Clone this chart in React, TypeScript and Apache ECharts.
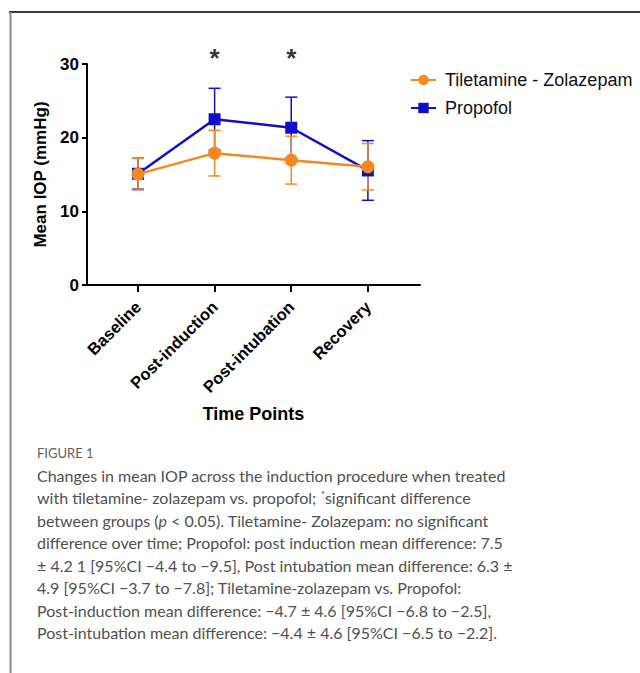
import React, { useEffect, useRef } from "react";
import * as echarts from "echarts";

const categories = ["Baseline", "Post-induction", "Post-intubation", "Recovery"];
const tzName = "Tiletamine - Zolazepam";
const propName = "Propofol";
const tzMean = [15.05, 17.9, 16.95, 16.05];
const tzSd = [2.15, 3.1, 3.25, 3.15];
const propMean = [15.1, 22.5, 21.35, 15.55];
const propSd = [2.1, 4.2, 4.15, 4.05];
const significance = ["", "*", "*", ""];
const yTicks = [0, 10, 20, 30];

const captionTitle = "FIGURE 1";
const captionLines = [
  "{n|Changes in mean IOP across the induction procedure when treated}",
  "{n|with tiletamine- zolazepam vs. propofol; }{s|*}{n|significant difference}",
  "{n|between groups (}{i|p}{n| < 0.05). Tiletamine- Zolazepam: no significant}",
  "{n|difference over time; Propofol: post induction mean difference: 7.5}",
  "{n|± 4.2 1 [95%CI −4.4 to −9.5], Post intubation mean difference: 6.3 ±}",
  "{n|4.9 [95%CI −3.7 to −7.8]; Tiletamine-zolazepam vs. Propofol:}",
  "{n|Post-induction mean difference: −4.7 ± 4.6 [95%CI −6.8 to −2.5],}",
  "{n|Post-intubation mean difference: −4.4 ± 4.6 [95%CI −6.5 to −2.2].}",
];

const ORANGE = "#F7881F";
const BLUE = "#0F0FC8";
const FONT = "Liberation Sans, Arial, sans-serif";
const CAP_FONT = "Lato, Open Sans, sans-serif";

function errorSeries(name: string, mean: number[], sd: number[], color: string) {
  return {
    type: "custom",
    name: name + " SD",
    data: mean.map((m, i) => [i, m, sd[i]]),
    encode: { x: 0, y: 1 },
    silent: true,
    renderItem: (params: any, api: any) => {
      const x = api.value(0);
      const m = api.value(1);
      const s = api.value(2);
      const top = api.coord([x, m + s]);
      const bot = api.coord([x, m - s]);
      const hw = 6;
      const style = { stroke: color, lineWidth: 1.5 };
      return {
        type: "group",
        children: [
          { type: "line", shape: { x1: top[0], y1: top[1], x2: bot[0], y2: bot[1] }, style },
          { type: "line", shape: { x1: top[0] - hw, y1: top[1], x2: top[0] + hw, y2: top[1] }, style },
          { type: "line", shape: { x1: bot[0] - hw, y1: bot[1], x2: bot[0] + hw, y2: bot[1] }, style },
        ],
      };
    },
  };
}

export default function App() {
  const ref = useRef<HTMLDivElement>(null);
  useEffect(() => {
    if (!ref.current) return;
    const chart = echarts.init(ref.current, null, { renderer: "svg" });
    const capStart = 475;
    const capStep = 22.5;
    const graphics: any[] = [
      { type: "line", shape: { x1: 9, y1: 12, x2: 640, y2: 12 }, style: { stroke: "#3a3a3a", lineWidth: 2 } },
      { type: "line", shape: { x1: 10.5, y1: 12, x2: 10.5, y2: 673 }, style: { stroke: "#8a8a8a", lineWidth: 2 } },
      {
        type: "text",
        x: 37,
        y: 453,
        style: { text: captionTitle, fontFamily: CAP_FONT, fontSize: 13, fill: "#5f5f5f", verticalAlign: "middle" },
      },
    ];
    captionLines.forEach((t, i) => {
      graphics.push({
        type: "text",
        x: 37,
        y: capStart + i * capStep,
        style: {
          text: t,
          verticalAlign: "middle",
          rich: {
            n: { fontFamily: CAP_FONT, fontSize: 16, fill: "#505050" },
            i: { fontFamily: CAP_FONT, fontSize: 16, fill: "#505050", fontStyle: "italic" },
            s: { fontFamily: CAP_FONT, fontSize: 10, fill: "#505050", padding: [0, 0, 8, 0] },
          },
        },
      });
    });

    chart.setOption({
      animation: false,
      backgroundColor: "#ffffff",
      grid: { left: 87, right: 220, top: 64, bottom: 388, containLabel: false, outerBoundsMode: "none" },
      legend: {
        data: [tzName, propName],
        orient: "vertical",
        left: 405,
        top: 66,
        itemWidth: 25,
        itemHeight: 13,
        itemGap: 10,
        textStyle: { fontFamily: FONT, fontSize: 18, color: "#111", padding: [0, 0, 0, 4] },
      },
      xAxis: {
        type: "value",
        min: -0.665,
        max: 3.68,
        name: "Time Points",
        nameLocation: "middle",
        nameGap: 120,
        nameTextStyle: { fontFamily: FONT, fontSize: 18, fontWeight: "bold", color: "#000" },
        splitLine: { show: false },
        axisLine: { onZero: false, lineStyle: { color: "#000", width: 2 } },
        axisTick: { show: true, customValues: [0, 1, 2, 3], length: 7, lineStyle: { color: "#000", width: 2 } },
        axisLabel: {
          customValues: [0, 1, 2, 3],
          formatter: (v: number) => categories[Math.round(v)] ?? "",
          rotate: 45,
          margin: 19,
          fontFamily: FONT,
          fontSize: 16.5,
          fontWeight: "bold",
          color: "#000",
        },
      },
      yAxis: {
        type: "value",
        min: yTicks[0],
        max: yTicks[yTicks.length - 1],
        interval: 10,
        name: "Mean IOP (mmHg)",
        nameLocation: "middle",
        nameGap: 37,
        nameTextStyle: { fontFamily: FONT, fontSize: 17, fontWeight: "bold", color: "#000" },
        splitLine: { show: false },
        axisLine: { show: true, onZero: false, lineStyle: { color: "#000", width: 2 } },
        axisTick: { show: true, length: 5, lineStyle: { color: "#000", width: 2 } },
        axisLabel: { margin: 8, fontFamily: FONT, fontSize: 17, fontWeight: "bold", color: "#000" },
      },
      series: [
        errorSeries(propName, propMean, propSd, BLUE),
        {
          type: "line",
          name: propName,
          data: propMean.map((m, i) => [i, m]),
          symbol: "rect",
          symbolSize: 12,
          color: BLUE,
          itemStyle: { color: BLUE },
          lineStyle: { color: BLUE, width: 2.5 },
        },
        errorSeries(tzName, tzMean, tzSd, ORANGE),
        {
          type: "line",
          name: tzName,
          data: tzMean.map((m, i) => [i, m]),
          symbol: "circle",
          symbolSize: 13,
          color: ORANGE,
          itemStyle: { color: ORANGE },
          lineStyle: { color: ORANGE, width: 2.5 },
        },
        {
          type: "scatter",
          name: "sig",
          clip: false,
          silent: true,
          symbolSize: 0,
          data: significance
            .map((s, i) => (s ? { value: [i, yTicks[yTicks.length - 1]], label: { formatter: s } } : null))
            .filter((d) => d !== null),
          label: {
            show: true,
            position: "inside",
            offset: [0, -6],
            fontFamily: FONT,
            fontSize: 26,
            fontWeight: "bold",
            color: "#000",
          },
        },
      ],
      graphic: graphics,
    });
    return () => chart.dispose();
  }, []);
  return (
    <div
      ref={ref}
      style={{ position: "fixed", left: 0, top: 0, width: 640, height: 673, background: "#fff" }}
    />
  );
}
